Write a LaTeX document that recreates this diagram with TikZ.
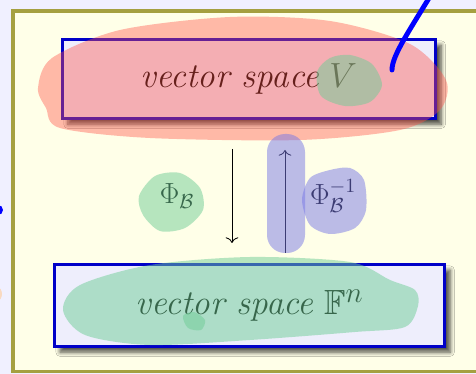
\documentclass[tikz,border=0pt]{standalone}
\usepackage{amssymb}
\usetikzlibrary{shadows.blur,arrows.meta}

\definecolor{pagebg}{RGB}{240,240,255}
\definecolor{framefill}{RGB}{255,255,232}
\definecolor{frameline}{RGB}{165,160,64}
\definecolor{boxfill}{RGB}{238,238,252}
\definecolor{boxline}{RGB}{0,0,200}
\definecolor{hlred}{RGB}{255,80,70}
\definecolor{hlgreen}{RGB}{110,205,150}
\definecolor{hlblue}{RGB}{120,120,230}

\tikzset{
  spacebox/.style={draw=boxline, line width=2.2pt, fill=boxfill, inner sep=0pt,
    blur shadow={shadow xshift=4pt, shadow yshift=-4pt, shadow blur radius=3pt,
      shadow blur steps=6, shadow opacity=70}},
  highlight/.style={fill=#1, opacity=0.5},
  maparrow/.style={-{To[length=4pt, width=9pt]}, semithick},
}

\begin{document}
\begin{tikzpicture}[x=0.025cm, y=-0.025cm]
    \clip (0,0) rectangle (476,374);
    \fill[pagebg] (0,0) rectangle (476,374);

    % Frame
    \draw[frameline, fill=framefill, line width=2.6pt] (13,11) rectangle (490,371.5);

    % Marks at the left edge
    \fill[blue] (-2,210) circle (5);
    \fill[orange!40, opacity=0.6] (-3,294) ellipse (5 and 7);

    % Spaces
    \node[spacebox, minimum width=9.33cm, minimum height=1.98cm] (vsp) at (249,79)
        {\Huge $\textit{vector space}\ V$};
    \node[spacebox, minimum width=9.75cm, minimum height=2.05cm] (fsp) at (249.5,305.5)
        {\Huge $\textit{vector space}\ \mathbb{F}^n$};

    % Maps
    \coordinate (dstart) at (232,149);
    \coordinate (dend) at (232,243);
    \coordinate (ustart) at (285,253);
    \coordinate (uend) at (285,150);
    \draw[maparrow] (dstart) -- (dend);
    \draw[maparrow] (ustart) -- (uend);
    \node (phi) at (177,196) {\huge $\Phi_{\mathcal{B}}$};
    \node (phiinv) at (333,196) {\huge $\Phi_{\mathcal{B}}^{-1}$};

    % Highlighter marks
    \fill[highlight=hlred, opacity=0.4] plot[smooth cycle] coordinates
        {(38,88) (52,58) (120,30) (230,17) (330,21) (410,44) (446,80) (440,110)
         (400,130) (300,140) (150,138) (60,128) (46,108)};
    \fill[highlight=hlgreen] plot[smooth cycle] coordinates
        {(317,72) (330,58) (350,55) (372,64) (382,85) (370,102) (345,106) (321,96)};
    \fill[highlight=hlgreen] plot[smooth cycle] coordinates
        {(63,310) (80,285) (150,265) (250,257) (350,262) (390,280) (415,290)
         (418,306) (405,327) (355,332) (250,340) (150,345) (85,335)};
    \fill[highlight=hlgreen] plot[smooth cycle] coordinates
        {(183,316) (194,312) (205,320) (201,330) (188,328)};
    \fill[highlight=hlgreen] plot[smooth cycle] coordinates
        {(139,196) (155,176) (180,173) (200,188) (203,210) (185,228) (160,231) (143,215)};
    \fill[highlight=hlblue] plot[smooth cycle] coordinates
        {(302,200) (310,178) (330,170) (350,168) (364,180) (366,210) (355,228) (330,234) (310,225)};
    \fill[highlight=hlblue, rounded corners=0.45cm] (267,134) rectangle (305,253);

    % Pen stroke
    \draw[blue, line width=3.5pt, line cap=round] (392,70) .. controls (392,55) and (410,30) .. (440,-20);
\end{tikzpicture}
\end{document}
